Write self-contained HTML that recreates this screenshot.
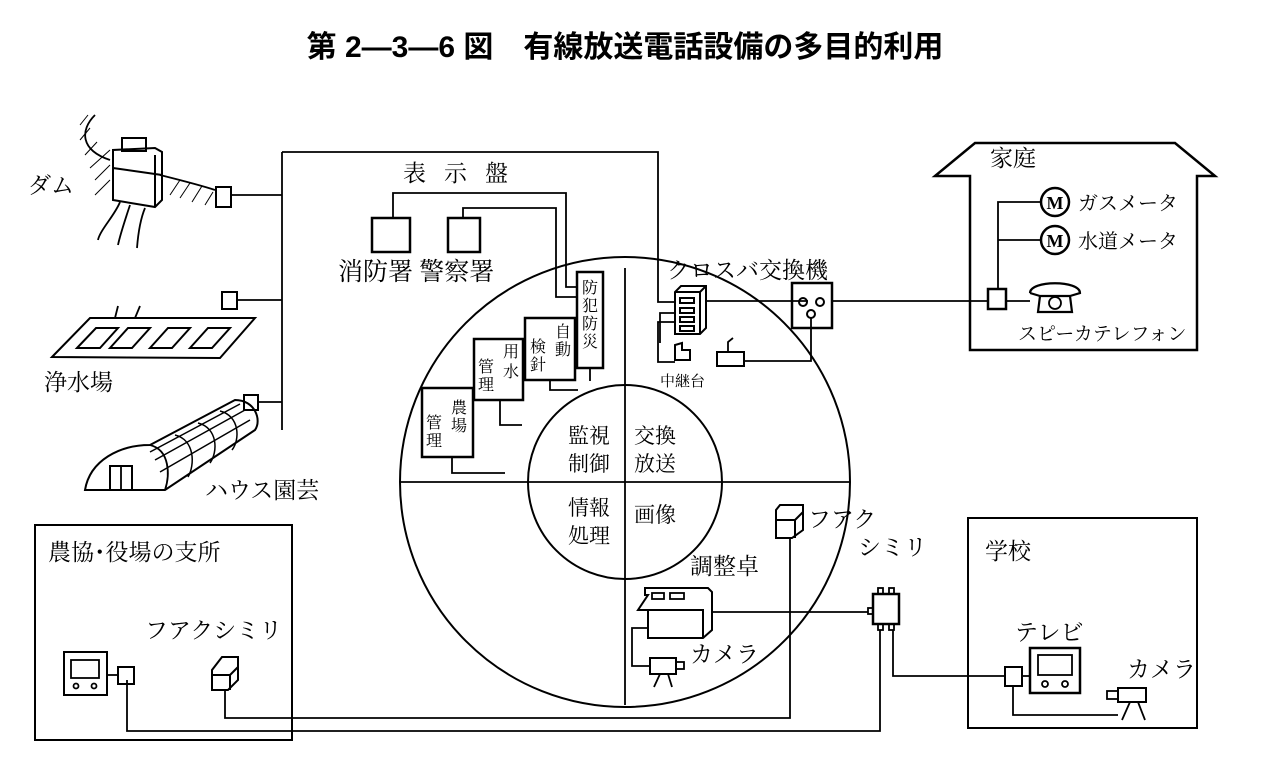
<!DOCTYPE html>
<html><head><meta charset="utf-8"><style>
html,body{margin:0;padding:0;background:#fff}
svg{display:block}
text{font-family:"Liberation Serif","Noto Serif CJK SC","Noto Sans CJK JP",serif;fill:#000}
</style></head><body>
<svg width="1285" height="765" viewBox="0 0 1285 765" xmlns="http://www.w3.org/2000/svg">
<text x="625" y="57" text-anchor="middle" font-size="30" font-weight="bold" style="font-family:'Liberation Sans','Noto Sans CJK JP',sans-serif">第 2—3—6 図　有線放送電話設備の多目的利用</text>

<g fill="none" stroke="#000" stroke-width="1.8">
<circle cx="625" cy="482" r="225" stroke-width="2"/>
<circle cx="625" cy="482" r="97" stroke-width="2"/>
<line x1="625" y1="268" x2="625" y2="705"/>
<line x1="400" y1="482" x2="850" y2="482"/>

<line x1="282" y1="152" x2="282" y2="430"/>
<polyline points="282,152 658,152 658,302 676,302"/>
<line x1="232" y1="195" x2="282" y2="195"/>
<line x1="238" y1="300" x2="282" y2="300"/>
<line x1="258" y1="402" x2="282" y2="402"/>
<rect x="216" y="187" width="15" height="20" stroke-width="2"/>
<rect x="222" y="292" width="15" height="17" stroke-width="2"/>
<rect x="244" y="395" width="14" height="15" stroke-width="2"/>

<path d="M95,115 C80,130 80,150 110,160 M160,175 C180,180 200,185 215,190" />
<g stroke-width="1"><line x1="80" y1="125" x2="88" y2="115"/><line x1="80" y1="140" x2="90" y2="128"/><line x1="85" y1="155" x2="97" y2="142"/><line x1="90" y1="168" x2="110" y2="150"/><line x1="95" y1="180" x2="110" y2="165"/><line x1="95" y1="195" x2="110" y2="180"/><line x1="170" y1="195" x2="180" y2="180"/><line x1="180" y1="198" x2="190" y2="183"/><line x1="192" y1="202" x2="202" y2="186"/><line x1="205" y1="205" x2="213" y2="192"/></g>
<path d="M113,150 L113,200 L155,207 L162,200 L162,152 L155,148 L113,150 Z M155,155 L155,207 M113,168 L162,175" stroke-width="2"/>
<rect x="122" y="138" width="24" height="13" stroke-width="2"/>
<path d="M120,202 C115,215 100,230 98,240 M130,205 C125,220 120,235 118,245 M145,208 C140,220 138,235 137,248"/>

<path d="M52,357 L90,318 L255,318 L220,358 Z" stroke-width="2"/>
<path d="M115,318 L118,306 M135,318 L140,306"/>
<path d="M77,348 L96,328 L118,328 L100,348 Z M110,348 L128,328 L150,328 L132,348 Z M150,348 L168,328 L190,328 L172,348 Z M190,348 L208,328 L230,328 L212,348 Z" stroke-width="2"/>

<path d="M85,490 C90,460 120,445 150,445 L235,400 C255,400 262,420 255,430 L165,490 Z" stroke-width="2"/>
<path d="M150,445 C170,450 170,475 165,490"/>
<g stroke-width="1.5"><path d="M175,435 C195,440 195,465 188,477"/><path d="M198,423 C218,428 218,452 210,463"/><path d="M220,411 C240,416 240,440 232,450"/>
<path d="M155,460 L245,410 M160,472 L250,420 M150,452 L240,404"/></g>
<rect x="110" y="466" width="22" height="24" stroke-width="2"/><line x1="121" y1="466" x2="121" y2="490"/>

<rect x="372" y="218" width="38" height="34" stroke-width="2.5"/>
<rect x="448" y="218" width="32" height="34" stroke-width="2.5"/>
<polyline points="393,218 393,193 566,193 566,287 577,287"/>
<polyline points="463,218 463,208 556,208 556,297 577,297"/>
<rect x="577" y="272" width="26" height="96" stroke-width="2.5"/>
<rect x="525" y="318" width="50" height="62" stroke-width="2.5"/>
<rect x="474" y="339" width="49" height="61" stroke-width="2.5"/>
<rect x="422" y="388" width="51" height="69" stroke-width="2.5"/>
<polyline points="452,457 452,473 505,473"/>
<polyline points="500,400 500,425 522,425"/>
<polyline points="550,380 550,390 578,390"/>
<line x1="590" y1="368" x2="590" y2="381"/>

<path d="M675,292 L675,334 L700,334 L706,328 L706,286 L681,286 Z M700,292 L700,334 M675,292 L700,292 M700,292 L706,286" stroke-width="2"/>
<g stroke-width="2"><rect x="680" y="298" width="14" height="5"/><rect x="680" y="308" width="14" height="5"/><rect x="680" y="317" width="14" height="5"/><rect x="680" y="326" width="14" height="5"/></g>
<line x1="706" y1="301" x2="808" y2="301"/>
<polyline points="676,313 660,313 660,343"/>
<polyline points="676,322 658,322 658,362 675,362"/>
<path d="M675,345 L675,360 L690,360 L690,350 L682,350 L682,343 Z" stroke-width="2"/>
<rect x="792" y="283" width="40" height="45" stroke-width="2.5"/>
<circle cx="803" cy="302" r="4" stroke-width="2"/><circle cx="820" cy="302" r="4" stroke-width="2"/><circle cx="811" cy="314" r="4" stroke-width="2"/>
<polyline points="811,318 811,361 745,361"/>
<rect x="717" y="352" width="27" height="14" stroke-width="2"/>
<path d="M728,352 L728,342 L733,338"/>
<line x1="832" y1="301" x2="988" y2="301"/>

<path d="M970,350 L970,176 L935,176 L975,143 L1175,143 L1215,176 L1197,176 L1197,350 Z" stroke-width="2.5"/>
<rect x="988" y="289" width="18" height="20" stroke-width="2.5"/>
<polyline points="998,289 998,202 1040,202"/>
<line x1="998" y1="240" x2="1040" y2="240"/>
<circle cx="1055" cy="202" r="14" stroke-width="2.5"/><circle cx="1055" cy="240" r="14" stroke-width="2.5"/>
<line x1="1006" y1="301" x2="1030" y2="301"/>
<path d="M1030,293 C1030,280 1080,280 1080,293 L1070,296 M1030,293 L1040,296 M1040,296 L1070,296 L1072,312 L1038,312 Z" stroke-width="2.2"/>
<circle cx="1055" cy="303" r="6"/>

<path d="M645,595 L645,588 L708,588 L712,592 L712,630 L703,638 L648,638 L648,610 L638,610 L648,595 Z M648,610 L703,610 L703,638" stroke-width="2"/>
<rect x="652" y="593" width="12" height="6"/><rect x="670" y="593" width="14" height="6"/>
<polyline points="648,628 632,628 632,666 650,666"/>
<rect x="650" y="658" width="26" height="16" stroke-width="2"/>
<rect x="676" y="662" width="8" height="7"/>
<path d="M660,674 L654,687 M668,674 L672,687"/>
<line x1="712" y1="612" x2="868" y2="612"/>
<path d="M776,510 L776,538 L792,538 L803,530 L803,505 L780,505 L776,510 Z M776,520 L795,520 L795,538 M795,520 L803,512" stroke-width="2"/>
<polyline points="790,538 790,718 225,718 225,690"/>
<rect x="873" y="594" width="26" height="30" stroke-width="2.5"/>
<rect x="868" y="608" width="5" height="6"/>
<rect x="878" y="588" width="5" height="6"/><rect x="889" y="588" width="5" height="6"/>
<rect x="878" y="624" width="5" height="6"/><rect x="889" y="624" width="5" height="6"/>
<polyline points="880,630 880,731 127,731 127,680"/>
<polyline points="893,630 893,676 1005,676"/>

<rect x="35" y="525" width="257" height="215" stroke-width="2"/>
<rect x="64" y="652" width="43" height="43" stroke-width="2"/>
<rect x="71" y="660" width="28" height="18"/>
<circle cx="76" cy="686" r="2.5"/><circle cx="94" cy="686" r="2.5"/>
<rect x="118" y="667" width="16" height="17" stroke-width="2"/>
<line x1="107" y1="675" x2="118" y2="675"/>
<path d="M212,670 L212,690 L228,690 L238,680 L238,657 L222,657 L212,670 Z M212,675 L230,675 L230,690 M230,675 L238,667" stroke-width="2"/>

<rect x="968" y="518" width="229" height="210" stroke-width="2"/>
<rect x="1005" y="667" width="17" height="19" stroke-width="2"/>
<rect x="1030" y="648" width="50" height="45" stroke-width="2.5"/>
<rect x="1038" y="655" width="34" height="20"/>
<circle cx="1045" cy="684" r="3"/><circle cx="1065" cy="684" r="3"/>
<line x1="1022" y1="676" x2="1030" y2="676"/>
<polyline points="1013,686 1013,715 1118,715"/>
<rect x="1118" y="688" width="28" height="14" stroke-width="2"/>
<rect x="1107" y="691" width="11" height="8"/>
<path d="M1130,702 L1122,720 M1138,702 L1145,720"/>
</g>

<text x="1055" y="209" font-size="18" font-weight="bold" text-anchor="middle">M</text>
<text x="1055" y="247" font-size="18" font-weight="bold" text-anchor="middle">M</text>

<g font-size="23">
<text x="28" y="193">ダム</text>
<text x="44" y="390">浄水場</text>
<text x="205" y="498">ハウス園芸</text>
<text x="403" y="181" letter-spacing="18">表示盤</text>
<text x="338" y="280" font-size="25">消防署 警察署</text>
<text x="667" y="278">クロスバ交換機</text>
<text x="660" y="386" font-size="15">中継台</text>
<text x="990" y="166">家庭</text>
<text x="1078" y="210" font-size="20">ガスメータ</text>
<text x="1078" y="248" font-size="20">水道メータ</text>
<text x="1018" y="340" font-size="19">スピーカテレフォン</text>
<text x="48" y="560">農協･役場の支所</text>
<text x="145" y="638">フアクシミリ</text>
<text x="985" y="559">学校</text>
<text x="1015" y="640">テレビ</text>
<text x="1127" y="677">カメラ</text>
<text x="808" y="527">フアク</text>
<text x="858" y="555">シミリ</text>
<text x="690" y="574">調整卓</text>
<text x="690" y="662">カメラ</text>
</g>
<g font-size="21">
<text x="568" y="443">監視</text><text x="568" y="471">制御</text>
<text x="634" y="443">交換</text><text x="634" y="471">放送</text>
<text x="568" y="515">情報</text><text x="568" y="543">処理</text>
<text x="634" y="522">画像</text>
</g>
<g font-size="16">
<text x="582" y="293">防</text><text x="582" y="311">犯</text><text x="582" y="329">防</text><text x="582" y="347">災</text>
<text x="555" y="337">自</text><text x="555" y="355">動</text><text x="530" y="352">検</text><text x="530" y="370">針</text>
<text x="503" y="357">用</text><text x="503" y="377">水</text><text x="478" y="372">管</text><text x="478" y="390">理</text>
<text x="451" y="413">農</text><text x="451" y="431">場</text><text x="426" y="428">管</text><text x="426" y="446">理</text>
</g>
</svg>
</body></html>
